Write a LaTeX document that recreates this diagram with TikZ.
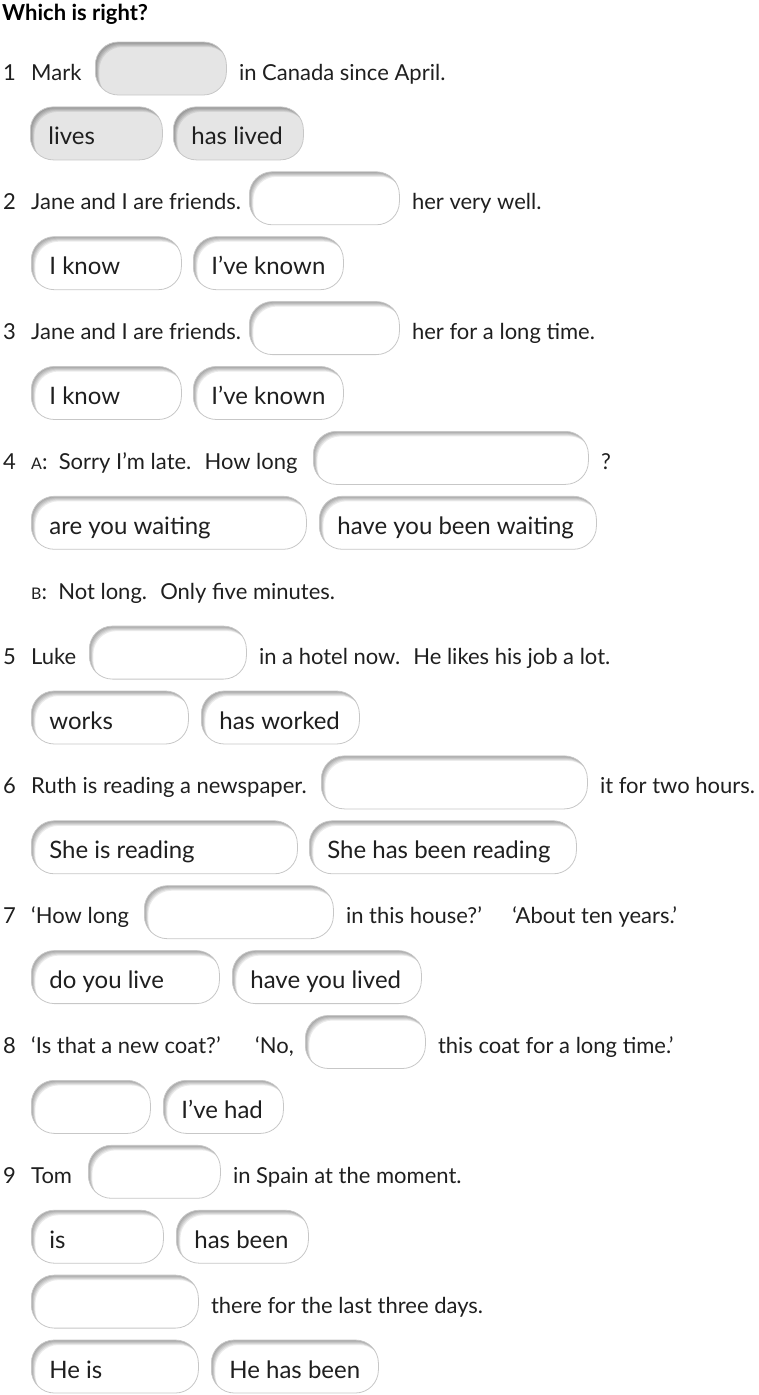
\documentclass[tikz,border=0pt]{standalone}
\usepackage{fontspec}
\setmainfont{Lato}
\usetikzlibrary{positioning}

\tikzset{
  txt/.style={inner sep=0pt, text height=23pt, text depth=0pt, anchor=west, text=black!88},
  num/.style={txt},
  box/.style={draw=black!22, line width=0.8pt, fill=white, rounded corners=23pt,
    minimum height=53pt, inner xsep=18pt, inner ysep=0pt, text height=23pt, text depth=0pt,
    anchor=west, text=black!88, font=\fontsize{24}{28}\selectfont,
    execute at begin node={\hbox to #1\bgroup}, execute at end node={\hfil\egroup},
    path picture={
      \foreach \s in {1,...,5}
        \fill[black, opacity=0.08, even odd rule, rounded corners=23pt]
          ([shift={(-20pt,20pt)}]path picture bounding box.north west) rectangle
          ([shift={(20pt,-20pt)}]path picture bounding box.south east)
          ([shift={(0.8*\s pt,-\s pt)}]path picture bounding box.north west) rectangle
          ([shift={(0.8*\s pt,-\s pt)}]path picture bounding box.south east);
    }},
  greybox/.style={box=#1, fill=black!10},
}

\begin{document}
\begin{tikzpicture}[x=1pt, y=-1pt, font=\fontsize{22}{26}\selectfont, node distance=12pt]
  \useasboundingbox (0,0) rectangle (758,1395);

  \node[anchor=base west, inner sep=0pt, font=\fontsize{22}{25}\selectfont\bfseries] (title) at (2,20) {Which is right?};

  % item numbers
  \foreach \n/\y in {1/68.5, 2/198.3, 3/328.1, 4/457.9, 5/652.6, 6/782.4, 7/912.2, 8/1042.0, 9/1171.8}
    \node[num] (n\n) at (3,\y) {\n};

  % 1
  \node[txt] (mark) at (31,68.5) {Mark};
  \node[greybox=95pt] (gap1) at (95,68.5) {};
  \node[txt, right=of gap1] (rest1) {in Canada since April.};
  \node[greybox=96pt] (lives) at (30,133.4) {lives};
  \node[greybox=94pt] (haslived) at (173,133.4) {has lived};

  % 2
  \node[txt] (jane2) at (31,198.3) {Jane and I are friends.};
  \node[box=114pt] (gap2) at (249,198.3) {};
  \node[txt, right=of gap2] (rest2) {her very well.};
  \node[box=114pt] (know2) at (31,263.2) {I know};
  \node[box=114pt] (known2) at (193,263.2) {I’ve known};

  % 3
  \node[txt] (jane3) at (31,328.1) {Jane and I are friends.};
  \node[box=114pt] (gap3) at (249,328.1) {};
  \node[txt, right=of gap3] (rest3) {her for a long time.};
  \node[box=114pt] (know3) at (31,393.0) {I know};
  \node[box=114pt] (known3) at (193,393.0) {I’ve known};

  % 4
  \node[txt] (sorry) at (31,457.9) {{\fontsize{16}{18}\selectfont A}:~ Sorry I’m late.~ How long};
  \node[box=239pt] (gap4) at (313,457.9) {};
  \node[txt, right=of gap4] (rest4) {?};
  \node[box=239pt] (arewait) at (31,522.8) {are you waiting};
  \node[box=241pt] (havewait) at (319,522.8) {have you been waiting};
  \node[txt] (notlong) at (31,587.7) {{\fontsize{16}{18}\selectfont B}:~ Not long.~ Only five minutes.};

  % 5
  \node[txt] (luke) at (31,652.6) {Luke};
  \node[box=121pt] (gap5) at (89,652.6) {};
  \node[txt, right=of gap5] (rest5) {in a hotel now.~ He likes his job a lot.};
  \node[box=121pt] (works) at (31,717.5) {works};
  \node[box=122pt] (hasworked) at (201,717.5) {has worked};

  % 6
  \node[txt] (ruth) at (31,782.4) {Ruth is reading a newspaper.};
  \node[box=230pt] (gap6) at (321,782.4) {};
  \node[txt, right=of gap6] (rest6) {it for two hours.};
  \node[box=230pt] (isreading) at (31,847.3) {She is reading};
  \node[box=231pt] (hasreading) at (309,847.3) {She has been reading};

  % 7
  \node[txt] (howlong) at (31,912.2) {‘How long};
  \node[box=153pt] (gap7) at (144,912.2) {};
  \node[txt, right=of gap7] (rest7) {in this house?’};
  \node[txt, right=30pt of rest7] (tenyears) {‘About ten years.’};
  \node[box=152pt] (dolive) at (31,977.1) {do you live};
  \node[box=153pt] (havelived) at (232,977.1) {have you lived};

  % 8
  \node[txt] (coat) at (31,1042.0) {‘Is that a new coat?’};
  \node[txt] (no) at (255,1042.0) {‘No,};
  \node[box=84pt] (gap8) at (305,1042.0) {};
  \node[txt, right=of gap8] (rest8) {this coat for a long time.’};
  \node[box=83pt] (blank8) at (31,1106.9) {};
  \node[box=84pt] (ivehad) at (163,1106.9) {I’ve had};

  % 9
  \node[txt] (tom) at (31,1171.8) {Tom};
  \node[box=96pt] (gap9) at (88,1171.8) {};
  \node[txt, right=of gap9] (rest9) {in Spain at the moment.};
  \node[box=96pt] (is) at (31,1236.7) {is};
  \node[box=96pt] (hasbeen) at (176,1236.7) {has been};
  \node[box=131pt] (gap9b) at (31,1301.6) {};
  \node[txt, right=of gap9b] (rest9b) {there for the last three days.};
  \node[box=131pt] (heis) at (31,1366.5) {He is};
  \node[box=131pt] (hehasbeen) at (211,1366.5) {He has been};
\end{tikzpicture}
\end{document}
